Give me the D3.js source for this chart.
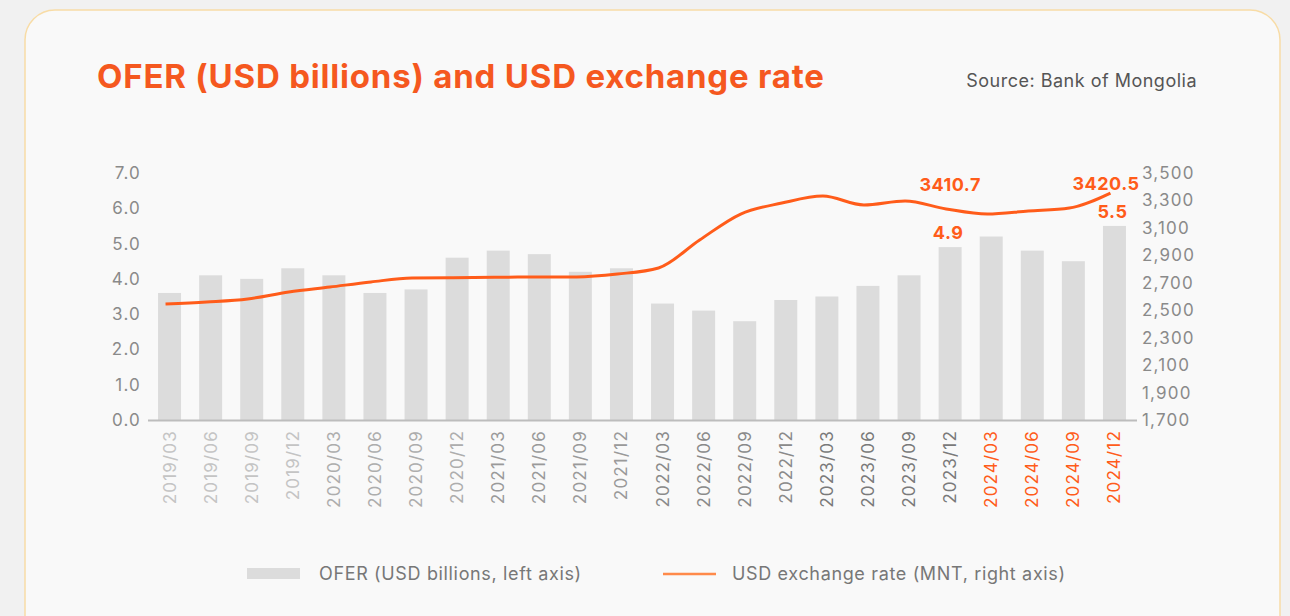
<!DOCTYPE html>
<meta charset='utf-8'>
<title>OFER and USD exchange rate</title>
<style>
html, body {
  margin: 0;
  padding: 0;
  background: #f1f1f1;
}
svg { display: block; }
</style>
<script src='https://d3js.org/d3.v7.min.js'></script>
<body>
<svg id='chart' width='1290' height='616'></svg>
<script>
// Data
var periods = ['2019/03','2019/06','2019/09','2019/12','2020/03','2020/06','2020/09','2020/12',
  '2021/03','2021/06','2021/09','2021/12','2022/03','2022/06','2022/09','2022/12',
  '2023/03','2023/06','2023/09','2023/12','2024/03','2024/06','2024/09','2024/12'];
var ofer = [3.6, 4.1, 4.0, 4.3, 4.1, 3.6, 3.7, 4.6, 4.8, 4.7, 4.2, 4.3,
  3.3, 3.1, 2.8, 3.4, 3.5, 3.8, 4.1, 4.9, 5.2, 4.8, 4.5, 5.5];
var usdRate = [2545, 2560, 2582, 2633, 2669, 2706, 2735, 2737, 2740, 2742, 2743, 2764,
  2808, 3012, 3201, 3281, 3332, 3267, 3296, 3238, 3201, 3223, 3245, 3354];
var leftTicks = [0, 1, 2, 3, 4, 5, 6, 7];
var rightTicks = [1700, 1900, 2100, 2300, 2500, 2700, 2900, 3100, 3300, 3500];
// callouts: [period, value]
var rateNotes = [['2023/12', 3410.7], ['2024/12', 3420.5]];
var oferNotes = [['2023/12', 4.9], ['2024/12', 5.5]];

var orange = '#ff5c1a';
var font = 'Inter, "Open Sans", sans-serif';

var svg = d3.select('#chart');

// Card
svg.append('rect')
  .attr('x', 25).attr('y', 10)
  .attr('width', 1255).attr('height', 640)
  .attr('rx', 30).attr('ry', 30)
  .attr('fill', '#f9f9f9')
  .attr('stroke', '#f8dca6')
  .attr('stroke-width', 1.5);

// Title + source
svg.append('text')
  .attr('x', 97).attr('y', 88)
  .attr('font-family', font)
  .attr('font-weight', 700)
  .attr('font-size', 33)
  .attr('letter-spacing', 0.8)
  .attr('fill', '#f5581f')
  .text('OFER (USD billions) and USD exchange rate');

svg.append('text')
  .attr('x', 1197).attr('y', 87)
  .attr('text-anchor', 'end')
  .attr('font-family', font)
  .attr('font-size', 18)
  .attr('letter-spacing', 0.5)
  .attr('fill', '#555')
  .text('Source: Bank of Mongolia');

var x = d3.scaleBand()
  .domain(periods)
  .range([149, 1135])
  .paddingInner(0.44)
  .paddingOuter(0.22);

var yL = d3.scaleLinear().domain([0, 7]).range([420, 173]);
var yR = d3.scaleLinear().domain([1700, 3500]).range([420, 173]);

function cx(p) { return x(p) + x.bandwidth() / 2; }

// Bars
svg.append('g')
  .selectAll('rect')
  .data(periods)
  .join('rect')
    .attr('x', function (d) { return x(d); })
    .attr('width', x.bandwidth())
    .attr('y', function (d, i) { return yL(ofer[i]); })
    .attr('height', function (d, i) { return yL(0) - yL(ofer[i]); })
    .attr('fill', '#dcdcdc');

// Base line
svg.append('line')
  .attr('x1', 148).attr('x2', 1137)
  .attr('y1', 420.5).attr('y2', 420.5)
  .attr('stroke', '#bdbdbd')
  .attr('stroke-width', 2);

// Left axis
var axL = svg.append('g')
  .attr('transform', 'translate(141,0)')
  .call(d3.axisLeft(yL).tickValues(leftTicks).tickFormat(d3.format('.1f')).tickSize(0).tickPadding(0));
axL.select('.domain').remove();
axL.selectAll('text')
  .attr('font-family', font)
  .attr('font-size', 17)
  .attr('letter-spacing', 1.2)
  .attr('fill', '#8a8a8a');

// Right axis
var axR = svg.append('g')
  .attr('transform', 'translate(1142,0)')
  .call(d3.axisRight(yR).tickValues(rightTicks).tickFormat(d3.format(',')).tickSize(0).tickPadding(0));
axR.select('.domain').remove();
axR.selectAll('text')
  .attr('font-family', font)
  .attr('font-size', 17)
  .attr('letter-spacing', 1.2)
  .attr('fill', '#8a8a8a');

// Period labels, shade by year
var yearColor = { '2019': '#c4c4c4', '2020': '#adadad', '2021': '#9a9a9a',
  '2022': '#8a8a8a', '2023': '#7a7a7a', '2024': orange };
svg.append('g')
  .selectAll('text')
  .data(periods)
  .join('text')
    .attr('transform', function (d) {
      return 'translate(' + (cx(d) + 6) + ',430)rotate(-90)';
    })
    .attr('text-anchor', 'end')
    .attr('font-family', font)
    .attr('font-size', 17)
    .attr('letter-spacing', 1.2)
    .attr('fill', function (d) { return yearColor[d.slice(0, 4)]; })
    .text(function (d) { return d; });

// Exchange rate line
var line = d3.line()
  .x(function (d, i) { return cx(periods[i]) - 4; })
  .y(function (d) { return yR(d); })
  .curve(d3.curveMonotoneX);

svg.append('path')
  .datum(usdRate)
  .attr('d', line)
  .attr('fill', 'none')
  .attr('stroke', orange)
  .attr('stroke-width', 3);

// Callouts
svg.append('g')
  .selectAll('text')
  .data(rateNotes)
  .join('text')
    .attr('x', function (d) { return Math.min(cx(d[0]), 1106); })
    .attr('y', function (d) { return yR(d[1]) + 6; })
    .attr('text-anchor', 'middle')
    .attr('font-family', font)
    .attr('font-weight', 700)
    .attr('font-size', 18)
    .attr('letter-spacing', 0.5)
    .attr('fill', orange)
    .text(function (d) { return d3.format('.1f')(d[1]); });

svg.append('g')
  .selectAll('text')
  .data(oferNotes)
  .join('text')
    .attr('x', function (d) { return cx(d[0]) - 2; })
    .attr('y', function (d) { return yL(d[1]) - 8; })
    .attr('text-anchor', 'middle')
    .attr('font-family', font)
    .attr('font-weight', 700)
    .attr('font-size', 18)
    .attr('letter-spacing', 0.5)
    .attr('fill', orange)
    .text(function (d) { return d3.format('.1f')(d[1]); });

// Legend
var legend = svg.append('g')
  .attr('font-family', font)
  .attr('font-size', 18)
  .attr('letter-spacing', 0.65)
  .attr('fill', '#777');
legend.append('rect')
  .attr('x', 247).attr('y', 568).attr('width', 53).attr('height', 11)
  .attr('fill', '#dcdcdc');
legend.append('text')
  .attr('x', 319).attr('y', 580)
  .text('OFER (USD billions, left axis)');
legend.append('line')
  .attr('x1', 663).attr('x2', 716).attr('y1', 574).attr('y2', 574)
  .attr('stroke', '#ff8a4a').attr('stroke-width', 2.5);
legend.append('text')
  .attr('x', 732).attr('y', 580)
  .text('USD exchange rate (MNT, right axis)');
</script>
</body>
